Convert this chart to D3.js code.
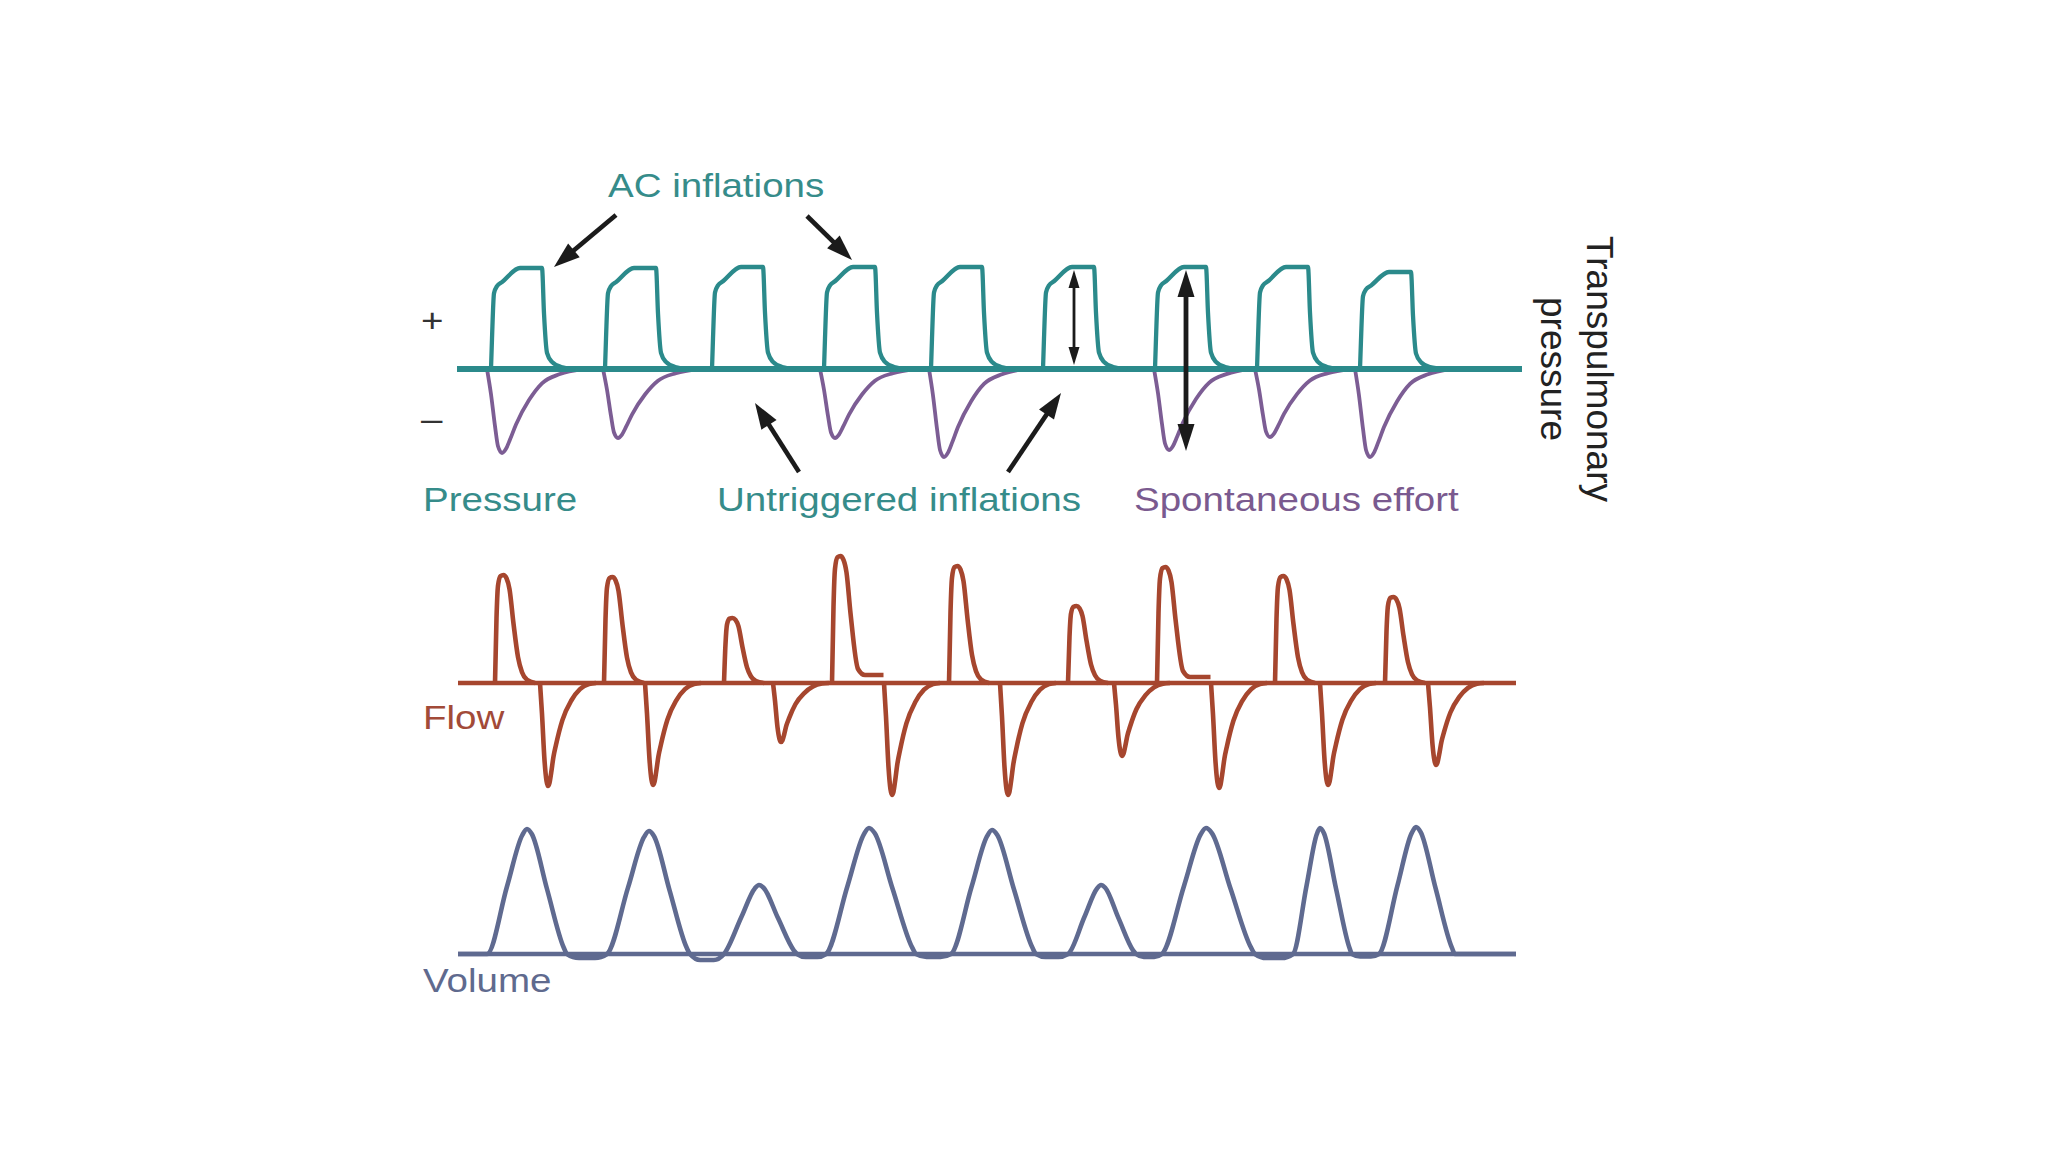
<!DOCTYPE html>
<html>
<head>
<meta charset="utf-8">
<script src="https://cdn.jsdelivr.net/npm/d3@7"></script>
<style>
    body { margin: 0; background: #fff; }
    text { font-family: "Liberation Sans", Arial, Helvetica, sans-serif; }
</style>
</head>
<body>
<div id="chart"></div>
<script>
// Data
// time in s, pressure in cmH2O, flow in L/s, volume in mL

// ventilator inflations (pressure trace)
const inflationOnset = [0.34, 1.48, 2.55, 3.67, 4.74, 5.86, 6.98, 8.00, 9.03];
const inflationPlateau = [20.2, 20.2, 20.4, 20.4, 20.4, 20.4, 20.4, 20.4, 19.4];
// [s after onset, fraction of plateau]
const inflationShape = [[0, 0], [0.01, 0.3], [0.03, 0.75], [0.06, 0.82], [0.11, 0.86], [0.29, 1],
    [0.51, 1], [0.53, 0.55], [0.56, 0.16], [0.61, 0.07], [0.70, 0.02], [0.84, 0]];

// spontaneous efforts (negative pressure)
const effortOnset = [0.30, 1.46, 3.63, 4.72, 6.97, 7.98, 8.98];
const effortDepth = [-16.8, -13.8, -13.8, -17.6, -16.2, -13.6, -17.6];
const effortShape = [[0, 0], [0.04, 0.3], [0.08, 0.68], [0.11, 0.92], [0.15, 1], [0.19, 0.95],
    [0.23, 0.84], [0.29, 0.66], [0.42, 0.37], [0.55, 0.17], [0.73, 0.06], [0.95, 0]];

// flow
const inspOnset = [0.38, 1.47, 2.67, 3.75, 4.92, 6.11, 7.00, 8.18, 9.28];
const inspPeak = [1.08, 1.06, 0.65, 1.27, 1.17, 0.77, 1.16, 1.07, 0.86];
const inspTail = [0, 0, 0, 0.08, 0, 0, 0.06, 0, 0];
const expOnset = [0.83, 1.88, 3.16, 4.27, 5.43, 6.57, 7.54, 8.63, 9.71];
const expPeak = [-1.03, -1.02, -0.59, -1.12, -1.12, -0.73, -1.05, -1.02, -0.82];
const inspShape = [[0, 0], [0.015, 0.6], [0.03, 0.9], [0.055, 0.99], [0.085, 1], [0.115, 0.97],
    [0.145, 0.87], [0.185, 0.55], [0.23, 0.24], [0.27, 0.1], [0.32, 0.03], [0.40, 0]];
const expShape = [[0, 0], [0.02, 0.3], [0.045, 0.75], [0.065, 0.95], [0.08, 1], [0.095, 0.97],
    [0.112, 0.87], [0.134, 0.72], [0.16, 0.6], [0.224, 0.36], [0.313, 0.17], [0.40, 0.06],
    [0.49, 0.01], [0.56, 0]];

// volume
const volStart = [0.30, 1.50, 2.67, 3.69, 4.94, 6.11, 7.05, 8.36, 9.22];
const volPeakTime = [0.70, 1.92, 3.02, 4.12, 5.35, 6.44, 7.49, 8.63, 9.59];
const volEnd = [1.10, 2.33, 3.40, 4.59, 5.79, 6.79, 7.98, 8.95, 9.98];
const volPeak = [500, 492, 276, 504, 496, 276, 504, 504, 508];
const volUndershoot = [-16, -24, -12, -12, -12, -12, -16, -10, 0];
const riseShape = [[0, 0], [0.5, 0.54], [0.88, 0.95], [1, 1]];
const fallShape = [[0, 1], [0.12, 0.96], [0.5, 0.52], [0.92, 0.05], [1, 0]];

const tEnd = 10.65;

// colours
const teal = '#2b8a8b', tealText = '#368c8a';
const purple = '#7c5d94', purpleText = '#7a5a8f';
const rust = '#a6462e', rustText = '#a24a38';
const slate = '#5f6a90', slateText = '#5f6a8e';
const ink = '#1b1b1b';

// Canvas
const svg = d3.select('#chart').append('svg')
    .attr('width', 2048).attr('height', 1152);
svg.append('rect').attr('width', 2048).attr('height', 1152).attr('fill', '#fff');

const x = d3.scaleLinear().domain([0, tEnd]).range([457, 1522]);
const yP = d3.scaleLinear().domain([-20, 20]).range([469, 269]);
const yF = d3.scaleLinear().domain([-1, 1]).range([783, 583]);
const yV = d3.scaleLinear().domain([0, 500]).range([954, 829]);

const lineP = d3.line().x(d => x(d[0])).y(d => yP(d[1])).curve(d3.curveMonotoneX);
const lineF = d3.line().x(d => x(d[0])).y(d => yF(d[1])).curve(d3.curveMonotoneX);
const lineV = d3.line().x(d => x(d[0])).y(d => yV(d[1])).curve(d3.curveMonotoneX);

// ---------- pressure panel ----------
const efforts = effortOnset.map((t0, i) =>
    effortShape.map(([dt, f]) => [t0 + dt, f * effortDepth[i]]));
svg.append('g').selectAll('path').data(efforts).join('path')
    .attr('d', lineP).attr('fill', 'none')
    .attr('stroke', purple).attr('stroke-width', 3.8);

svg.append('line')
    .attr('x1', x(0)).attr('x2', x(tEnd))
    .attr('y1', yP(0)).attr('y2', yP(0))
    .attr('stroke', teal).attr('stroke-width', 5.8);

const inflations = inflationOnset.map((t0, i) =>
    inflationShape.map(([dt, f]) => [t0 + dt, f * inflationPlateau[i]]));
svg.append('g').selectAll('path').data(inflations).join('path')
    .attr('d', lineP).attr('fill', 'none')
    .attr('stroke', teal).attr('stroke-width', 4.3).attr('stroke-linejoin', 'round');

// ---------- flow panel ----------
svg.append('line')
    .attr('x1', x(0.01)).attr('x2', x(10.59))
    .attr('y1', yF(0)).attr('y2', yF(0))
    .attr('stroke', rust).attr('stroke-width', 4.4);

const flowLobes = [];
inspOnset.forEach((t0, i) => {
    let pts = inspShape.map(([dt, f]) => [t0 + dt, f * inspPeak[i]]);
    if (inspTail[i] > 0) {
        pts = pts.filter(d => d[0] < t0 + 0.22);
        pts.push([t0 + 0.26, inspTail[i] + 0.06]);
        pts.push([t0 + 0.33, inspTail[i]]);
        pts.push([expOnset[i] - 0.005, inspTail[i]]);
    }
    flowLobes.push(pts);
    flowLobes.push(expShape.map(([dt, f]) => [expOnset[i] + dt, f * expPeak[i]]));
});
svg.append('g').selectAll('path').data(flowLobes).join('path')
    .attr('d', lineF).attr('fill', 'none')
    .attr('stroke', rust).attr('stroke-width', 4.6).attr('stroke-linejoin', 'round');

// ---------- volume panel ----------
svg.append('line')
    .attr('x1', x(0.01)).attr('x2', x(10.59))
    .attr('y1', yV(0)).attr('y2', yV(0))
    .attr('stroke', slate).attr('stroke-width', 4.4);

const volPts = [[0.01, 0]];
volStart.forEach((s, i) => {
    const p = volPeakTime[i], e = volEnd[i], v = volPeak[i];
    riseShape.forEach(([u, f]) => volPts.push([s + u * (p - s), f * v]));
    fallShape.slice(1).forEach(([u, f]) => volPts.push([p + u * (e - p), f * v]));
    if (i < volStart.length - 1) {
        const g = volStart[i + 1] - e;
        volPts.push([e + 0.3 * g, volUndershoot[i]]);
        volPts.push([e + 0.7 * g, volUndershoot[i]]);
    } else {
        volPts.push([10.59, 0]);
    }
});
svg.append('path').datum(volPts)
    .attr('d', lineV).attr('fill', 'none')
    .attr('stroke', slate).attr('stroke-width', 4.6).attr('stroke-linejoin', 'round');

// ---------- arrows ----------
function arrowHead(g, x1, y1, x2, y2, len, wid) {
    const a = Math.atan2(y2 - y1, x2 - x1);
    const bx = x2 - len * Math.cos(a), by = y2 - len * Math.sin(a);
    const nx = -Math.sin(a) * wid / 2, ny = Math.cos(a) * wid / 2;
    g.append('path')
        .attr('d', `M${x2},${y2}L${bx + nx},${by + ny}L${bx - nx},${by - ny}Z`)
        .attr('fill', ink);
}
function arrow(t1, p1, t2, p2, opt) {
    const g = svg.append('g');
    const X1 = x(t1), Y1 = yP(p1), X2 = x(t2), Y2 = yP(p2);
    const a = Math.atan2(Y2 - Y1, X2 - X1);
    const cut = opt.len * 0.7;
    const sx = opt.both ? X1 + cut * Math.cos(a) : X1;
    const sy = opt.both ? Y1 + cut * Math.sin(a) : Y1;
    g.append('line')
        .attr('x1', sx).attr('y1', sy)
        .attr('x2', X2 - cut * Math.cos(a)).attr('y2', Y2 - cut * Math.sin(a))
        .attr('stroke', ink).attr('stroke-width', opt.w);
    arrowHead(g, X1, Y1, X2, Y2, opt.len, opt.wid);
    if (opt.both) arrowHead(g, X2, Y2, X1, Y1, opt.len, opt.wid);
}
const bigArrow = { w: 4.6, len: 26, wid: 18 };
arrow(1.59, 30.8, 0.97, 20.4, bigArrow);           // AC inflation 1
arrow(3.50, 30.6, 3.95, 21.8, bigArrow);           // AC inflation 2
arrow(3.42, -20.6, 2.98, -6.8, bigArrow);          // untriggered 1
arrow(5.51, -20.6, 6.04, -4.8, bigArrow);          // untriggered 2
arrow(6.17, 19.8, 6.17, 0.8, { w: 2.8, len: 18, wid: 11, both: true });
arrow(7.29, 19.8, 7.29, -16.4, { w: 4.8, len: 27, wid: 17, both: true });

// ---------- labels ----------
function label(txt, px, py, color, size) {
    svg.append('text')
        .attr('transform', `translate(${px},${py}) scale(1.15,1)`)
        .attr('font-size', size).attr('fill', color).text(txt);
}
label('AC inflations', 608, 197, tealText, 33.5);
label('Pressure', 423, 511, tealText, 33.5);
label('Untriggered inflations', 717, 511, tealText, 33.5);
label('Spontaneous effort', 1134, 511, purpleText, 33.5);
label('Flow', 423, 729, rustText, 33.5);
label('Volume', 423, 992, slateText, 33.5);
label('+', 421, 332, '#333', 33.5);
label('\u2013', 421, 430, '#333', 33.5);

const side = svg.append('g').attr('font-size', 37).attr('fill', '#222').attr('text-anchor', 'middle');
side.append('text').attr('transform', 'translate(1587,369) rotate(90)').text('Transpulmonary');
side.append('text').attr('transform', 'translate(1541,369) rotate(90)').text('pressure');
</script>
</body>
</html>
